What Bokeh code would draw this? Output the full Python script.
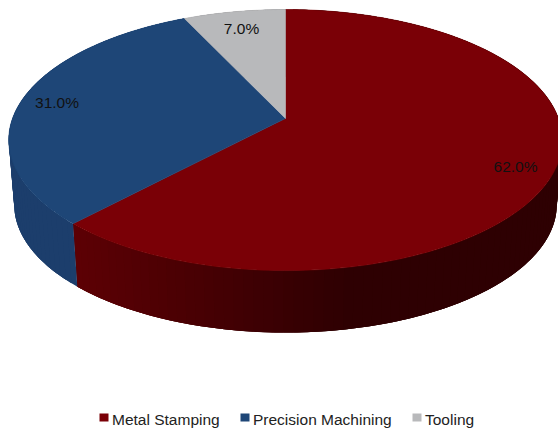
import numpy as np
from bokeh.embed import file_html
from bokeh.models import ColumnDataSource, Range1d
from bokeh.plotting import figure
from bokeh.resources import INLINE
from bokeh.core.properties import value

# Share of each segment, clockwise from twelve o'clock
categories = ["Metal Stamping", "Precision Machining", "Tooling"]
shares = [62.0, 31.0, 7.0]
labels = ["62.0%", "31.0%", "7.0%"]

top_colors = ["#7a0006", "#1e4677", "#b8b9bb"]
wall_near = [(92, 0, 4), (28, 62, 108), (150, 150, 152)]
wall_far = [(46, 0, 2), (30, 68, 116), (150, 150, 152)]

WIDTH, HEIGHT = 558, 430
HUB_X, HUB_Y = 285.0, 118.0   # where the slices meet on the top face
RX, RY = 273.0, 127.0         # radii before perspective
TILT = 0.165                  # perspective strength
DEPTH = 65.0                  # wall height
BASE_SCALE = 0.98             # lower rim shrinks with distance


def rim(theta, scale=1.0, drop=0.0):
    """Project angles on the disc to page coordinates."""
    u, v = np.sin(theta), np.cos(theta)
    d = 1 + TILT * v
    return HUB_X + scale * RX * u / d, HUB_Y + drop - scale * RY * v / d


def hex_color(rgb):
    return "#%02x%02x%02x" % tuple(int(round(c)) for c in rgb)


p = figure(width=WIDTH, height=HEIGHT, output_backend="svg", toolbar_location=None,
           x_range=Range1d(0, WIDTH), y_range=Range1d(HEIGHT, 0), min_border=0,
           outline_line_color=None, background_fill_color="white")
p.axis.visible = False
p.grid.visible = False

edges = np.radians(np.concatenate([[0], np.cumsum(shares)]) * 3.6)

# Walls first: overlapping strips painted in turn, so no seams open between them.
# The top faces cover the rear part of each wall.
for i in range(len(shares)):
    steps = np.linspace(edges[i], edges[i + 1], int(shares[i] * 2) + 2)
    step = steps[1] - steps[0]
    xs, ys, colors = [], [], []
    for a in steps[:-1]:
        span = np.linspace(a, min(a + 3 * step, edges[i + 1]), 6)
        tx, ty = rim(span)
        bx, by = rim(span[::-1], BASE_SCALE, DEPTH)
        xs.append(list(tx) + list(bx))
        ys.append(list(ty) + list(by))
        mid = rim(np.array([a + step / 2]))[0][0]
        t = np.clip((mid - 78) / 270, 0, 1)
        colors.append(hex_color(np.array(wall_near[i]) + t * (np.array(wall_far[i]) - np.array(wall_near[i]))))
    src = ColumnDataSource(dict(x=xs, y=ys, c=colors))
    p.patches("x", "y", source=src, fill_color="c", line_color=None)

# Top faces
for i in range(len(shares)):
    theta = np.linspace(edges[i], edges[i + 1], 240)
    fx, fy = rim(theta)
    p.patch([HUB_X] + list(fx), [HUB_Y] + list(fy), fill_color=top_colors[i],
            line_color=top_colors[i], line_width=0.5)

# Percentage labels
label_x = [515, 56.5, 241]
label_y = [166, 102, 28]
p.text(label_x, label_y, text=labels, text_font=value("Liberation Sans"), text_font_size="15.5px",
       text_align="center", text_baseline="middle", text_color="#111111")

# Legend row
swatch_x = [103.5, 244.5, 416.5]
text_x = [111.5, 252.5, 424.5]
legend_y = 419
p.rect(swatch_x, [417] * 3, width=9, height=8, fill_color=top_colors, line_color=None)
p.text(text_x, [legend_y] * 3, text=categories, text_font=value("Liberation Sans"),
       text_font_size="15.5px", text_align="left", text_baseline="middle", text_color="#222222")

open("out.html", "w").write(file_html(p, INLINE))
